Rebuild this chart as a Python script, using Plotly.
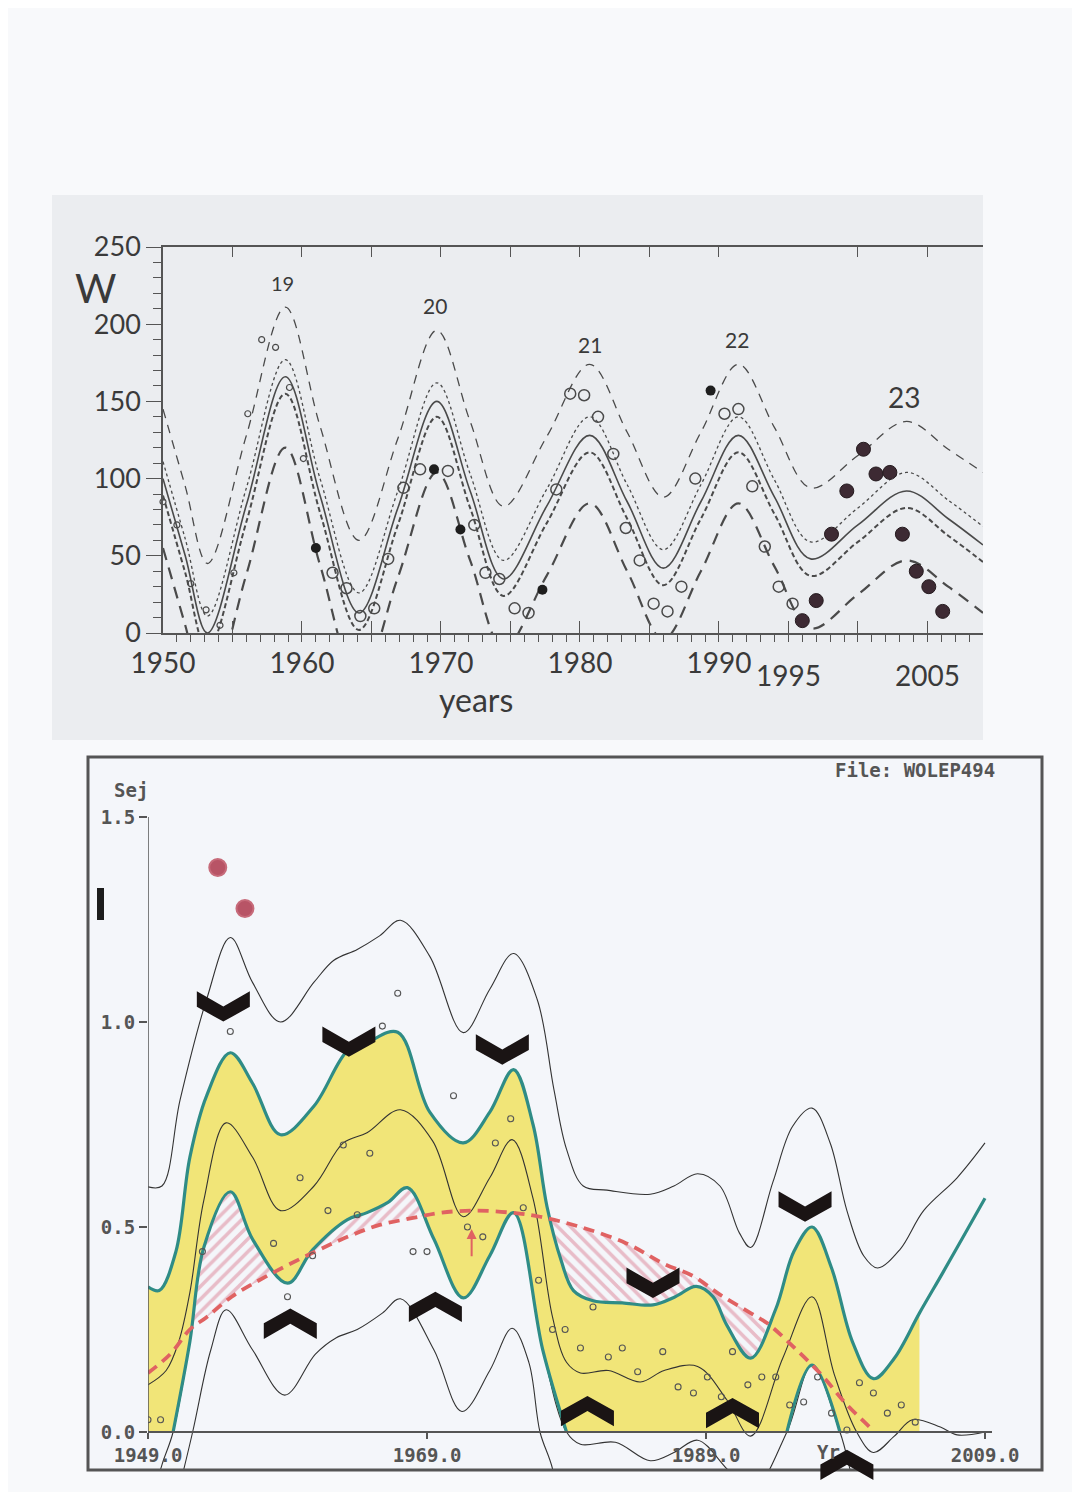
import plotly.graph_objects as go

# ================= TOP PANEL DATA (sunspot number W) =================
top_knot_years = [1950.0, 1951.6, 1953.2, 1956.0, 1958.8, 1961.3, 1964.1, 1966.9, 1969.7, 1972.1,
                  1974.5, 1977.6, 1980.7, 1983.4, 1986.0, 1988.7, 1991.4, 1994.0, 1996.6, 2000.0,
                  2003.5, 2006.5, 2009.0]
top_mean     = [100, 50, 0, 83, 166, 89, 13, 81, 150, 92, 35, 82, 128, 85, 42, 85, 128, 88, 48, 70, 92, 74, 57]
top_outer_hi = [145, 95, 45, 128, 211, 134, 60, 126, 196, 137, 82, 127, 174, 130, 88, 130, 174, 133, 94, 115, 137, 119, 104]
top_outer_lo = [55, 5, -45, 38, 120, 44, -33, 36, 104, 47, -10, 37, 84, 40, -4, 40, 84, 43, 3, 25, 47, 30, 13]
top_inner_hi = [111, 61, 11, 94, 177, 100, 26, 92, 162, 103, 47, 93, 140, 96, 54, 96, 140, 99, 59, 81, 104, 86, 69]
top_inner_lo = [89, 39, -11, 72, 155, 78, 2, 70, 140, 81, 24, 71, 117, 74, 31, 74, 117, 77, 37, 59, 81, 63, 46]

small_pts_x = [1950.0, 1951.0, 1952.0, 1953.1, 1954.1, 1955.1, 1956.1, 1957.1, 1958.1, 1959.1, 1960.1]
small_pts_y = [85, 70, 32, 15, 5, 39, 142, 190, 185, 159, 113]
open_pts_x = [1962.2, 1963.2, 1964.2, 1965.2, 1966.2, 1967.3, 1968.5, 1970.5, 1972.4, 1973.2, 1974.2,
              1975.3, 1976.3, 1978.3, 1979.3, 1980.3, 1981.3, 1982.4, 1983.3, 1984.3, 1985.3, 1986.3,
              1987.3, 1988.3, 1990.4, 1991.4, 1992.4, 1993.3, 1994.3, 1995.3]
open_pts_y = [39, 29, 11, 16, 48, 94, 106, 105, 70, 39, 35, 16, 13, 93, 155, 154, 140, 116, 68, 47, 19,
              14, 30, 100, 142, 145, 95, 56, 30, 19]
filled_pts_x = [1961.0, 1969.5, 1971.4, 1977.3, 1989.4]
filled_pts_y = [55, 106, 67, 28, 157]
new_pts_x = [1996.0, 1997.0, 1998.1, 1999.2, 2000.4, 2001.3, 2002.3, 2003.2, 2004.2, 2005.1, 2006.1]
new_pts_y = [8, 21, 64, 92, 119, 103, 104, 64, 40, 30, 14]

cycle_names = ["19", "20", "21", "22", "23"]
cycle_x = [1958.6, 1969.6, 1980.7, 1991.3, 2003.3]
cycle_y = [227, 212, 187, 190, 153]
cycle_size = [20, 21, 21, 21, 28]

top_major_ticks = [1950, 1955, 1960, 1965, 1970, 1975, 1980, 1985, 1990, 1995, 2000, 2005]
top_major_text = ["1950", "", "1960", "", "1970", "", "1980", "", "1990", "", "", ""]
top_upper_ticks = [1950, 1955, 1960, 1965, 1970, 1975, 1980, 1985, 1990, 2000, 2005]
low_labels = ["1995", "2005"]
low_label_x = [1995, 2005]

# ================= BOTTOM PANEL DATA (Sej) =================
uo_x = [1949, 1950, 1951.3, 1953.2, 1954.9, 1956.5, 1958.5, 1960.9, 1962.3, 1964.0, 1965.6, 1967.1,
        1969.2, 1971.6, 1973.5, 1975.2, 1976.9, 1978.1, 1979.0, 1980.2, 1981.9, 1985.0, 1986.7, 1988.4,
        1990.0, 1991.4, 1992.2, 1993.8, 1995.2, 1996.6, 1997.9, 1999.1, 2000.3, 2001.3, 2002.9, 2004.6,
        2007.0, 2009.0]
uo_y = [0.598, 0.60, 0.81, 1.055, 1.206, 1.096, 1.0, 1.097, 1.15, 1.177, 1.21, 1.248, 1.16, 0.974,
        1.08, 1.167, 1.055, 0.835, 0.69, 0.60, 0.59, 0.58, 0.60, 0.63, 0.60, 0.485, 0.45, 0.61, 0.745,
        0.79, 0.705, 0.54, 0.43, 0.40, 0.445, 0.54, 0.62, 0.705]

ut_x = [1949, 1949.8, 1951.0, 1952.0, 1953.2, 1954.9, 1956.5, 1958.5, 1960.9, 1963.3, 1964.7, 1966.9,
        1969.2, 1971.6, 1973.5, 1975.2, 1976.6, 1977.6, 1978.6, 1979.5, 1980.9, 1983.0, 1985.2, 1986.8,
        1988.3, 1989.5, 1990.5, 1992.2, 1994.0, 1995.3, 1996.6, 1998.0, 1999.5, 2001.0, 2002.5, 2004.3,
        2006.0, 2007.5, 2009.0]
ut_y = [0.354, 0.345, 0.44, 0.67, 0.82, 0.925, 0.85, 0.725, 0.795, 0.93, 0.95, 0.975, 0.78, 0.705,
        0.78, 0.884, 0.75, 0.55, 0.42, 0.345, 0.32, 0.315, 0.31, 0.33, 0.355, 0.33, 0.26, 0.18, 0.30,
        0.44, 0.50, 0.40, 0.22, 0.13, 0.18, 0.29, 0.39, 0.48, 0.57]
yellow_end = 2004.3

md_x = [1949, 1950.3, 1951.2, 1952.0, 1953.0, 1954.6, 1956.5, 1958.5, 1960.9, 1963.0, 1964.7, 1967.1,
        1969.4, 1971.6, 1973.5, 1975.1, 1976.6, 1978.0, 1979.0, 1980.0, 1982.0, 1984.3, 1986.0, 1988.4,
        1990.5, 1992.2, 1994.5, 1996.6, 1998.2, 1999.8, 2001.0, 2002.5, 2003.8, 2005.8, 2007.0, 2009.0]
md_y = [0.115, 0.15, 0.22, 0.34, 0.565, 0.754, 0.67, 0.54, 0.60, 0.705, 0.73, 0.786, 0.71, 0.525,
        0.62, 0.713, 0.57, 0.28, 0.17, 0.144, 0.15, 0.122, 0.15, 0.16, 0.078, -0.01, 0.18, 0.33, 0.14,
        0.0, -0.05, -0.01, 0.03, 0.012, -0.007, 0.0]

lt_x = [1949, 1950.0, 1950.8, 1952.0, 1953.0, 1954.9, 1956.5, 1959.0, 1960.8, 1963.3, 1964.7, 1966.2,
        1967.6, 1969.5, 1971.6, 1973.5, 1975.2, 1977.3, 1979.0, 1980.0, 1982.5, 1985.0, 1986.7, 1988.4,
        1990.5, 1992.2, 1994.8, 1996.6, 1998.6, 2000.5, 2003.0, 2006.0, 2009.0]
lt_y = [-0.2, -0.08, 0.0, 0.22, 0.45, 0.586, 0.47, 0.363, 0.444, 0.518, 0.535, 0.56, 0.596, 0.47,
        0.327, 0.43, 0.535, 0.2, 0.0, -0.03, -0.025, -0.07, -0.05, -0.02, -0.09, -0.15, 0.0, 0.163,
        0.0, -0.2, -0.25, -0.35, -0.45]
lt_teal_ranges = [(1950.8, 1979.0), (1994.8, 1998.6)]

lo_x = [1949, 1950.5, 1952.2, 1953.5, 1954.6, 1956.5, 1958.8, 1961.0, 1962.5, 1964.0, 1965.8, 1967.1,
        1969.5, 1971.5, 1973.5, 1975.1, 1976.3, 1977.1, 1978.0, 1979.0, 1982.0, 1987.0, 1991.0, 1994.5,
        1996.6, 1998.5, 2001.0, 2005.0, 2009.0]
lo_y = [-0.55, -0.25, 0.0, 0.2, 0.298, 0.2, 0.09, 0.19, 0.23, 0.25, 0.29, 0.325, 0.2, 0.05, 0.15,
        0.253, 0.17, 0.0, -0.09, -0.3, -0.4, -0.4, -0.35, -0.2, -0.12, -0.2, -0.4, -0.5, -0.6]

rd_x = [1949, 1950.6, 1952.0, 1953.2, 1955.0, 1957.5, 1960.8, 1963.3, 1965.6, 1968.0, 1970.0, 1972.5,
        1975.0, 1977.1, 1980.0, 1983.3, 1986.0, 1988.1, 1990.0, 1992.2, 1993.4, 1995.5, 1997.4, 1999.0,
        2000.8]
rd_y = [0.144, 0.19, 0.25, 0.28, 0.33, 0.38, 0.437, 0.476, 0.505, 0.522, 0.535, 0.54, 0.535, 0.525,
        0.50, 0.46, 0.41, 0.38, 0.335, 0.29, 0.265, 0.20, 0.135, 0.07, 0.01]

# hatched gaps between the red curve and the band edge: (x0, y0, x1, y1) crossing points
hatch_low = [(1952.1, 0.255, 1957.9, 0.39), (1960.6, 0.437, 1968.7, 0.527)]
hatch_up = [(1977.8, 0.515, 1993.4, 0.265)]

obs_x = [1949.0, 1949.9, 1952.9, 1954.9, 1958.0, 1959.0, 1959.9, 1960.8, 1961.9, 1963.0, 1964.0,
         1964.9, 1965.8, 1966.9, 1968.0, 1969.0, 1970.9, 1971.9, 1973.0, 1973.9, 1975.0, 1975.9,
         1977.0, 1978.0, 1978.9, 1980.0, 1980.9, 1982.0, 1983.0, 1984.1, 1985.9, 1987.0, 1988.1,
         1989.1, 1990.1, 1990.9, 1992.0, 1993.0, 1994.0, 1995.0, 1996.0, 1997.0, 1998.0, 1999.1,
         2000.0, 2001.0, 2002.0, 2003.0, 2004.0]
obs_y = [0.03, 0.03, 0.44, 0.977, 0.46, 0.33, 0.62, 0.43, 0.54, 0.70, 0.53, 0.68, 0.99, 1.07, 0.44,
         0.44, 0.82, 0.50, 0.476, 0.705, 0.764, 0.547, 0.37, 0.25, 0.25, 0.205, 0.305, 0.183, 0.205,
         0.147, 0.196, 0.11, 0.095, 0.134, 0.086, 0.196, 0.115, 0.134, 0.134, 0.066, 0.073, 0.134,
         0.046, 0.005, 0.12, 0.095, 0.046, 0.066, 0.024]
red_dot_x = [1954.0, 1955.95]
red_dot_y = [1.377, 1.277]

chev_down_x = [1954.4, 1963.4, 1974.4, 1985.2, 1996.1]
chev_down_y = [1.038, 0.952, 0.933, 0.364, 0.55]
chev_up_x = [1959.2, 1969.6, 1980.5, 1990.9, 1999.1]
chev_up_y = [0.264, 0.305, 0.051, 0.046, -0.08]

bot_ticks = [1949, 1969, 1989, 2009]
bot_tick_text = ["1949.0", "1969.0", "1989.0", "2009.0"]
sej_ticks = [0.0, 0.5, 1.0, 1.5]
sej_tick_text = ["0.0", "0.5", "1.0", "1.5"]

# ================= STYLE =================
W, H = 1080, 1492
OFF = 8  # the page places the figure 8 px in from the top-left corner
PAGE = "#f8f9fb"
TOPBG = "#ebedf0"
BOTBG = "#f4f6fa"
INK = "#4a4a4a"
YELLOW = "#f1e578"
TEAL = "#2f8c86"
RED = "#e06262"
PINK = "#dc8296"
TOPFONT = "Lato"
MONO = "DejaVu Sans Mono"


def px_x(p):
    return (p - OFF) / W


def px_y(p):
    return (H - (p - OFF)) / H


def subset(xs, ys, a, b, ya=None, yb=None):
    sx, sy = [], []
    if ya is not None:
        sx.append(a); sy.append(ya)
    for x, y in zip(xs, ys):
        if (a <= x <= b) if ya is None else (a < x < b):
            sx.append(x); sy.append(y)
    if yb is not None:
        sx.append(b); sy.append(yb)
    return sx, sy


fig = go.Figure()

# ---------- top panel curves ----------
def tline(y, dash, width):
    fig.add_trace(go.Scatter(x=top_knot_years, y=y, mode="lines", xaxis="x", yaxis="y",
                             line=dict(color=INK, width=width, dash=dash, shape="spline", smoothing=1.0),
                             hoverinfo="skip", showlegend=False))

tline(top_outer_hi, "9px,7px", 1.3)
tline(top_inner_hi, "3px,3px", 1.3)
tline(top_mean, "solid", 1.6)
tline(top_inner_lo, "5px,3px", 2.0)
tline(top_outer_lo, "12px,8px", 2.2)

fig.add_trace(go.Scatter(x=small_pts_x, y=small_pts_y, mode="markers", xaxis="x", yaxis="y",
                         marker=dict(symbol="circle-open", size=6, color=INK, line=dict(width=1.2)),
                         showlegend=False, cliponaxis=False))
fig.add_trace(go.Scatter(x=open_pts_x, y=open_pts_y, mode="markers", xaxis="x", yaxis="y",
                         marker=dict(symbol="circle-open", size=11, color=INK, line=dict(width=1.5)),
                         showlegend=False, cliponaxis=False))
fig.add_trace(go.Scatter(x=filled_pts_x, y=filled_pts_y, mode="markers", xaxis="x", yaxis="y",
                         marker=dict(symbol="circle", size=10, color="#1e1e1e"),
                         showlegend=False, cliponaxis=False))
fig.add_trace(go.Scatter(x=new_pts_x, y=new_pts_y, mode="markers", xaxis="x", yaxis="y",
                         marker=dict(symbol="circle", size=14, color="#3d2a33",
                                     line=dict(color="#241a1e", width=1)),
                         showlegend=False, cliponaxis=False))
# dummy for the top axis overlay
fig.add_trace(go.Scatter(x=[1950], y=[0], mode="markers", xaxis="x3", yaxis="y",
                         marker=dict(opacity=0), hoverinfo="skip", showlegend=False))

# ---------- bottom panel ----------
yx, yy = subset(ut_x, ut_y, 1949, yellow_end)
fig.add_trace(go.Scatter(x=yx, y=yy, mode="lines", xaxis="x2", yaxis="y2", fill="tozeroy",
                         fillcolor=YELLOW, line=dict(width=0, shape="spline", color=YELLOW),
                         hoverinfo="skip", showlegend=False))
fig.add_trace(go.Scatter(x=lt_x, y=lt_y, mode="lines", xaxis="x2", yaxis="y2", fill="tozeroy",
                         fillcolor=BOTBG, line=dict(width=0, shape="spline", color=BOTBG),
                         hoverinfo="skip", showlegend=False))

def hatch(edge_x, edge_y, spec, shape):
    for (a, ya, b, yb) in spec:
        rx, ry = subset(rd_x, rd_y, a, b, ya, yb)
        ex, ey = subset(edge_x, edge_y, a, b, ya, yb)
        fig.add_trace(go.Scatter(x=rx, y=ry, mode="lines", xaxis="x2", yaxis="y2",
                                 line=dict(width=0, shape="spline"), hoverinfo="skip", showlegend=False))
        fig.add_trace(go.Scatter(x=ex, y=ey, mode="lines", xaxis="x2", yaxis="y2", fill="tonexty",
                                 fillcolor="rgba(0,0,0,0)",
                                 fillpattern=dict(shape=shape, size=9, solidity=0.4, fgcolor=PINK,
                                                  bgcolor="rgba(0,0,0,0)"),
                                 line=dict(width=0, shape="spline"), hoverinfo="skip", showlegend=False))

hatch(lt_x, lt_y, hatch_low, "/")
hatch(ut_x, ut_y, hatch_up, "\\")

def bline(x, y, color, width, dash="solid"):
    fig.add_trace(go.Scatter(x=x, y=y, mode="lines", xaxis="x2", yaxis="y2",
                             line=dict(color=color, width=width, dash=dash, shape="spline"),
                             hoverinfo="skip", showlegend=False))

bline(uo_x, uo_y, "#333", 1.1)
bline(lo_x, lo_y, "#333", 1.1)
bline(md_x, md_y, "#333", 1.1)
bline(lt_x, lt_y, "#333", 1.1)
for a, b in lt_teal_ranges:
    sx, sy = subset(lt_x, lt_y, a, b)
    bline(sx, sy, TEAL, 3.2)
bline(ut_x, ut_y, TEAL, 3.2)
bline(rd_x, rd_y, RED, 3.8, "11px,7px")

fig.add_trace(go.Scatter(x=obs_x, y=obs_y, mode="markers", xaxis="x2", yaxis="y2",
                         marker=dict(symbol="circle-open", size=6, color="#555", line=dict(width=1.1)),
                         showlegend=False))
fig.add_trace(go.Scatter(x=red_dot_x, y=red_dot_y, mode="markers", xaxis="x2", yaxis="y2",
                         marker=dict(symbol="circle", size=17, color="#b85466",
                                     line=dict(color="#c76b7a", width=2)),
                         showlegend=False))

# ---------- shapes ----------
shapes = []
shapes.append(dict(type="rect", xref="paper", yref="paper", x0=px_x(52), x1=px_x(983),
                   y0=px_y(740), y1=px_y(195), fillcolor=TOPBG, line=dict(width=0), layer="below"))
shapes.append(dict(type="rect", xref="paper", yref="paper", x0=px_x(88), x1=px_x(1042),
                   y0=px_y(1470), y1=px_y(757), fillcolor=BOTBG, line=dict(width=0), layer="below"))
# cover below the frame, frame, left bar
shapes.append(dict(type="rect", xref="paper", yref="paper", x0=px_x(60), x1=px_x(1070),
                   y0=0, y1=px_y(1471), fillcolor=PAGE, line=dict(width=0), layer="above"))
shapes.append(dict(type="rect", xref="paper", yref="paper", x0=px_x(88), x1=px_x(1042),
                   y0=px_y(1470), y1=px_y(757), line=dict(color="#555", width=3), layer="above"))
shapes.append(dict(type="rect", xref="paper", yref="paper", x0=px_x(97), x1=px_x(104),
                   y0=px_y(920), y1=px_y(888), fillcolor="#1c1c1c", line=dict(width=0), layer="above"))
# y axis line of the lower panel (0 .. 1.5)
shapes.append(dict(type="line", xref="x2", yref="y2", x0=1949, x1=1949, y0=0, y1=1.5,
                   line=dict(color="#555", width=1.5), layer="above"))

HW, HH, NOTCH, END = 1.9, 0.037, 0.0, -0.001
for cx, cy in zip(chev_down_x, chev_down_y):
    p = (f"M{cx-HW},{cy+HH} L{cx},{cy+NOTCH} L{cx+HW},{cy+HH} L{cx+HW},{cy+END} "
         f"L{cx},{cy-HH} L{cx-HW},{cy+END} Z")
    shapes.append(dict(type="path", xref="x2", yref="y2", path=p, fillcolor="#1a1414",
                       line=dict(width=0), layer="above"))
for cx, cy in zip(chev_up_x, chev_up_y):
    p = (f"M{cx-HW},{cy-HH} L{cx},{cy-NOTCH} L{cx+HW},{cy-HH} L{cx+HW},{cy-END} "
         f"L{cx},{cy+HH} L{cx-HW},{cy-END} Z")
    shapes.append(dict(type="path", xref="x2", yref="y2", path=p, fillcolor="#1a1414",
                       line=dict(width=0), layer="above"))

# ---------- annotations ----------
ann = []
C = dict(xanchor="center", yanchor="middle", showarrow=False)
for t, x, y, s in zip(cycle_names, cycle_x, cycle_y, cycle_size):
    ann.append(dict(text=t, x=x, y=y, xref="x", yref="y",
                    font=dict(family=TOPFONT, size=s, color="#3a3a3a"), **C))
for t, x in zip(low_labels, low_label_x):
    ann.append(dict(text=t, x=x, y=px_y(675), xref="x", yref="paper",
                    font=dict(family=TOPFONT, size=28, color="#3a3a3a"), **C))
ann.append(dict(text="W", x=px_x(95), y=px_y(262), xref="paper", yref="paper", showarrow=False,
                xanchor="center", yanchor="top",
                font=dict(family=TOPFONT, size=40, color="#3a3a3a")))
ann.append(dict(text="years", x=px_x(476), y=px_y(699), xref="paper", yref="paper",
                font=dict(family=TOPFONT, size=32, color="#3a3a3a"), **C))
ann.append(dict(text="<b>Sej</b>", x=px_x(131), y=px_y(790), xref="paper", yref="paper",
                font=dict(family=MONO, size=19, color="#555"), **C))
ann.append(dict(text="<b>File: WOLEP494</b>", x=px_x(915), y=px_y(770), xref="paper", yref="paper",
                font=dict(family=MONO, size=19, color="#555"), **C))
ann.append(dict(text="<b>Yr</b>", x=px_x(828), y=px_y(1452), xref="paper", yref="paper",
                font=dict(family=MONO, size=19, color="#555"), **C))
ann.append(dict(text="", x=1972.2, y=0.495, ax=1972.2, ay=0.425, xref="x2", yref="y2",
                axref="x2", ayref="y2", showarrow=True, arrowhead=2, arrowsize=1, arrowwidth=2,
                arrowcolor=RED))

tickf_topx = dict(family=TOPFONT, size=28, color="#3a3a3a")
tickf_topy = dict(family=TOPFONT, size=27, color="#3a3a3a")
tickf_bot = dict(family=MONO, size=19, color="#555", weight="bold")

fig.update_layout(
    width=W, height=H, margin=dict(l=0, r=0, t=0, b=0, pad=0), autosize=False,
    paper_bgcolor=PAGE, plot_bgcolor="rgba(0,0,0,0)", showlegend=False,
    xaxis=dict(domain=[px_x(163), px_x(983)], range=[1950, 2009], anchor="y", automargin=False,
               showline=True, linecolor="#555", linewidth=1.5, showgrid=False, zeroline=False,
               tickmode="array", tickvals=top_major_ticks, ticktext=top_major_text,
               ticks="inside", ticklen=12, tickwidth=1.3, tickcolor="#555", tickfont=tickf_topx,
               ticklabelstandoff=5,
               minor=dict(ticks="outside", tickmode="linear", tick0=1950, dtick=1, ticklen=7,
                          tickwidth=1.1, tickcolor="#555")),
    xaxis3=dict(overlaying="x", side="top", anchor="y", range=[1950, 2009], showline=True,
                automargin=False,
                linecolor="#555", linewidth=1.5, showgrid=False, zeroline=False,
                tickmode="array", tickvals=top_upper_ticks, ticks="inside", ticklen=10,
                tickwidth=1.3, tickcolor="#555", showticklabels=False),
    yaxis=dict(domain=[px_y(633), px_y(247)], range=[0, 250], anchor="x", automargin=False,
               showline=True, linecolor="#555", linewidth=1.5, showgrid=False, zeroline=False,
               tickmode="linear", tick0=0, dtick=50, ticks="outside", ticklen=15, tickwidth=1.3,
               tickcolor="#555", tickfont=tickf_topy,
               minor=dict(ticks="outside", dtick=10, ticklen=8, tickwidth=1.1, tickcolor="#555")),
    xaxis2=dict(domain=[px_x(148), px_x(992)], range=[1949, 1949 + 844 / 13.95], anchor="free",
                automargin=False,
                position=px_y(1432), showline=True, linecolor="#555", linewidth=1.5,
                showgrid=False, zeroline=False, tickmode="array", tickvals=bot_ticks,
                ticktext=bot_tick_text, ticks="outside", ticklen=6, tickwidth=1.5, tickcolor="#555",
                tickfont=tickf_bot),
    yaxis2=dict(domain=[px_y(1485.3), px_y(817)], range=[-0.13, 1.5], anchor="x2",
                automargin=False,
                showline=False, showgrid=False, zeroline=False, tickmode="array",
                tickvals=sej_ticks, ticktext=sej_tick_text, ticks="outside", ticklen=8,
                tickwidth=1.5, tickcolor="#555", tickfont=tickf_bot),
    shapes=shapes, annotations=ann,
)

fig.write_html("out.html")
